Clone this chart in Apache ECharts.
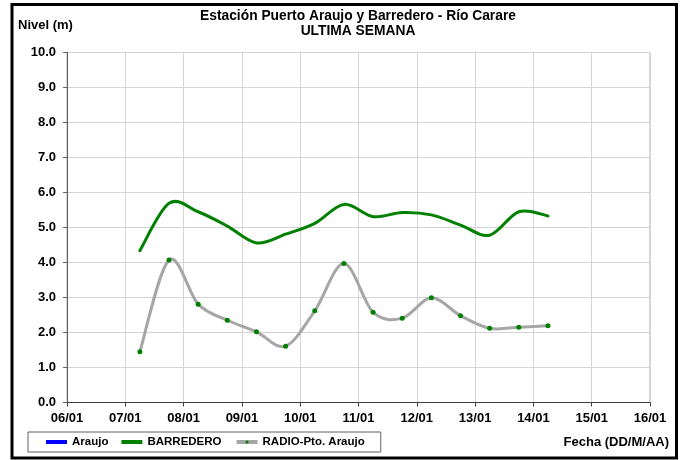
<!DOCTYPE html>
<html>
<head>
<meta charset="utf-8">
<script src="https://cdn.jsdelivr.net/npm/echarts@6/dist/echarts.min.js"></script>
<style>
  html, body { margin: 0; padding: 0; background: #fff; }
  #chart { width: 684px; height: 460px; }
</style>
</head>
<body>
<div id="chart"></div>
<script>
// lecturas cada 12 horas (DD/MM HH:mm)
const horas = [
  "07/01 06:00", "07/01 18:00", "08/01 06:00", "08/01 18:00", "09/01 06:00",
  "09/01 18:00", "10/01 06:00", "10/01 18:00", "11/01 06:00", "11/01 18:00",
  "12/01 06:00", "12/01 18:00", "13/01 06:00", "13/01 18:00", "14/01 06:00"
];
const araujo = [];
const barredero = [4.34, 5.69, 5.45, 5.04, 4.56, 4.81, 5.12, 5.66, 5.31, 5.43, 5.36, 5.07, 4.78, 5.45, 5.33];
const radioPtoAraujo = [1.45, 4.07, 2.81, 2.35, 2.02, 1.61, 2.62, 3.97, 2.58, 2.41, 2.99, 2.48, 2.12, 2.15, 2.19];
const diaMin = 6;
const diaMax = 16;

// "07/01 06:00" -> 7.25 (dia del mes con fraccion)
function aDia(h) {
  const dia = parseInt(h.slice(0, 2), 10);
  const hora = parseInt(h.slice(6, 8), 10);
  const min = parseInt(h.slice(9, 11), 10);
  return dia + (hora + min / 60) / 24;
}
const par = (vals) => vals.map((v, i) => [aDia(horas[i]), v]);

// curva suavizada tipo Excel (Catmull-Rom -> Bezier), en pixeles del eje
function curvaSuave(datos, color) {
  return {
    type: "custom",
    name: "_" + color,
    data: datos,
    encode: { x: 0, y: 1 },
    silent: true,
    z: 2,
    renderItem: (params, api) => {
      if (params.dataIndex !== 0) return null;
      const p = datos.map((d) => api.coord(d));
      let path = "M" + p[0][0] + " " + p[0][1];
      for (let i = 0; i < p.length - 1; i++) {
        const p0 = p[Math.max(i - 1, 0)];
        const p1 = p[i];
        const p2 = p[i + 1];
        const p3 = p[Math.min(i + 2, p.length - 1)];
        const c1x = p1[0] + (p2[0] - p0[0]) / 6, c1y = p1[1] + (p2[1] - p0[1]) / 6;
        const c2x = p2[0] - (p3[0] - p1[0]) / 6, c2y = p2[1] - (p3[1] - p1[1]) / 6;
        path += " C" + c1x + " " + c1y + " " + c2x + " " + c2y + " " + p2[0] + " " + p2[1];
      }
      return {
        type: "path",
        shape: { pathData: path },
        style: { fill: "none", stroke: color, lineWidth: 3, lineJoin: "round", lineCap: "round" }
      };
    }
  };
}

const fuente = "'Liberation Sans', Arial, sans-serif";
const chart = echarts.init(document.getElementById("chart"), null, { renderer: "canvas" });

const option = {
  animation: false,
  backgroundColor: "#fff",
  grid: {
    left: 67, right: 34, top: 52.5, bottom: 57.5,
    containLabel: false, outerBoundsMode: "none",
    show: true, borderColor: "#b0b0b0", borderWidth: 1
  },
  legend: {
    left: 28, top: 432,
    orient: "horizontal",
    padding: [4, 16, 4, 18],
    itemGap: 13,
    itemWidth: 21, itemHeight: 4,
    borderColor: "#606060", borderWidth: 1,
    textStyle: { fontFamily: fuente, fontWeight: "bold", fontSize: 11.5, color: "#000" },
    data: [
      { name: "Araujo", icon: "rect", itemStyle: { color: "#0000ff" } },
      { name: "BARREDERO", icon: "rect", itemStyle: { color: "#008000" } },
      { name: "RADIO-Pto. Araujo", lineStyle: { color: "#a6a6a6", width: 4, opacity: 1 } }
    ]
  },
  xAxis: {
    type: "value",
    min: diaMin, max: diaMax, interval: 1,
    axisLine: { show: true, onZero: false, lineStyle: { color: "#404040", width: 1 } },
    axisTick: { show: true, inside: false, length: 4, lineStyle: { color: "#404040" } },
    axisLabel: {
      margin: 9,
      fontFamily: fuente, fontWeight: "bold", fontSize: 13, color: "#000",
      formatter: (v) => String(v).padStart(2, "0") + "/01"
    },
    splitLine: { show: true, lineStyle: { color: "#d4d4d4", width: 1 } }
  },
  yAxis: {
    type: "value",
    min: 0, max: 10, interval: 1,
    axisLine: { show: true, lineStyle: { color: "#606060", width: 1 } },
    axisTick: { show: true, inside: false, length: 4, lineStyle: { color: "#606060" } },
    axisLabel: {
      margin: 11,
      fontFamily: fuente, fontWeight: "bold", fontSize: 13, color: "#000",
      formatter: (v) => v.toFixed(1)
    },
    splitLine: { show: true, lineStyle: { color: "#d4d4d4", width: 1 } }
  },
  series: [
    {
      name: "Araujo",
      type: "line",
      data: par(araujo),
      symbol: "none",
      lineStyle: { color: "#0000ff", width: 3 },
      itemStyle: { color: "#0000ff" }
    },
    // las lineas se dibujan con curvaSuave; estas series dan leyenda y marcadores
    {
      name: "BARREDERO",
      type: "line",
      data: par(barredero),
      symbol: "none",
      lineStyle: { color: "#008000", width: 3, opacity: 0 },
      itemStyle: { color: "#008000" }
    },
    {
      name: "RADIO-Pto. Araujo",
      type: "line",
      data: par(radioPtoAraujo),
      symbol: "circle",
      symbolSize: 5,
      z: 3,
      lineStyle: { color: "#a6a6a6", width: 3, opacity: 0 },
      itemStyle: { color: "#008000", borderWidth: 0 }
    },
    curvaSuave(par(barredero), "#008000"),
    curvaSuave(par(radioPtoAraujo), "#a6a6a6")
  ],
  graphic: [
    // marco exterior
    {
      type: "rect",
      shape: { x: 12, y: 4.5, width: 664.5, height: 453.5 },
      style: { fill: null, stroke: "#000", lineWidth: 3 },
      z: 100
    },
    {
      type: "text", x: 358, y: 16,
      style: {
        text: "Estación Puerto Araujo y Barredero - Río Carare",
        font: "bold 13.8px " + fuente, fill: "#000", align: "center", verticalAlign: "middle"
      }
    },
    {
      type: "text", x: 358, y: 31,
      style: {
        text: "ULTIMA SEMANA",
        font: "bold 13.8px " + fuente, fill: "#000", align: "center", verticalAlign: "middle"
      }
    },
    {
      type: "text", x: 18, y: 25,
      style: {
        text: "Nivel (m)",
        font: "bold 13px " + fuente, fill: "#000", align: "left", verticalAlign: "middle"
      }
    },
    {
      type: "text", x: 669, y: 442,
      style: {
        text: "Fecha (DD/M/AA)",
        font: "bold 13px " + fuente, fill: "#000", align: "right", verticalAlign: "middle"
      }
    }
  ]
};

option && chart.setOption(option);
</script>
</body>
</html>
